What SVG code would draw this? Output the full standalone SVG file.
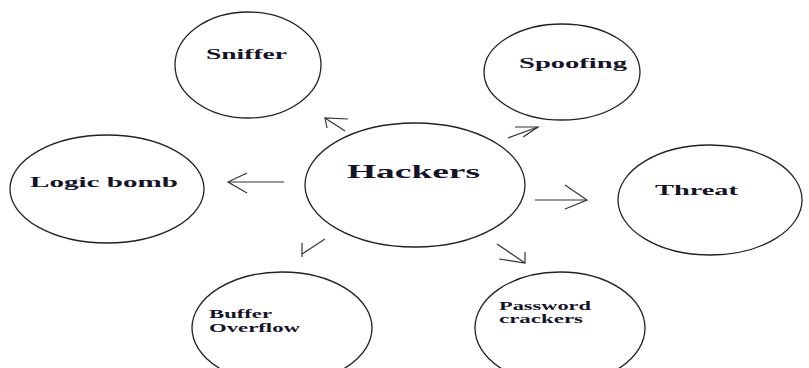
<svg xmlns="http://www.w3.org/2000/svg" width="809" height="368" viewBox="0 0 809 368">
<style>
.n{fill:#fff;stroke:#222;stroke-width:1.3}
.t{font-family:"Liberation Serif","Times New Roman",serif;font-weight:bold;fill:#141428}
.c line,.c polyline{stroke:#333;stroke-width:1.2;fill:none}
</style>
<rect width="809" height="368" fill="#fff"/>
<g id="sniffer"><ellipse class="n" cx="248" cy="65" rx="73" ry="53"/><text class="t" x="206" y="59" font-size="15" textLength="81" lengthAdjust="spacingAndGlyphs">Sniffer</text></g>
<g id="spoofing"><ellipse class="n" cx="562" cy="72" rx="78" ry="48"/><text class="t" x="519" y="68" font-size="15" textLength="108" lengthAdjust="spacingAndGlyphs">Spoofing</text></g>
<g id="logicbomb"><ellipse class="n" cx="107" cy="189" rx="97" ry="54"/><text class="t" x="30" y="187" font-size="15" textLength="148" lengthAdjust="spacingAndGlyphs">Logic bomb</text></g>
<g id="hackers"><ellipse class="n" cx="415" cy="185" rx="110" ry="62"/><text class="t" x="347" y="178" font-size="19" textLength="133" lengthAdjust="spacingAndGlyphs">Hackers</text></g>
<g id="threat"><ellipse class="n" cx="710" cy="200" rx="92" ry="55"/><text class="t" x="655" y="195" font-size="15" textLength="83" lengthAdjust="spacingAndGlyphs">Threat</text></g>
<g id="buffer"><ellipse class="n" cx="282" cy="328" rx="90" ry="56"/><text class="t" x="209" y="318" font-size="12" textLength="63" lengthAdjust="spacingAndGlyphs">Buffer</text><text class="t" x="209" y="332" font-size="12" textLength="91" lengthAdjust="spacingAndGlyphs">Overflow</text></g>
<g id="password"><ellipse class="n" cx="560" cy="328" rx="85" ry="56"/><text class="t" x="499" y="310" font-size="12" textLength="92" lengthAdjust="spacingAndGlyphs">Password</text><text class="t" x="499" y="323" font-size="12" textLength="84" lengthAdjust="spacingAndGlyphs">crackers</text></g>
<g class="c" id="connectors">
<line x1="345" y1="131" x2="325" y2="118"/><polyline points="348,119 325,118 327,128"/>
<line x1="508" y1="138" x2="538" y2="127"/><polyline points="515,127 538,127 523,137"/>
<line x1="284" y1="182" x2="228" y2="182"/><polyline points="247,173 228,182 247,193"/>
<line x1="535" y1="200" x2="587" y2="200"/><polyline points="565,185 587,200 565,209"/>
<line x1="325" y1="239" x2="302" y2="254"/><line x1="302" y1="243" x2="302" y2="257"/>
<line x1="497" y1="244" x2="525" y2="263"/><polyline points="525,252 525,263 499,259"/>
</g>
</svg>
